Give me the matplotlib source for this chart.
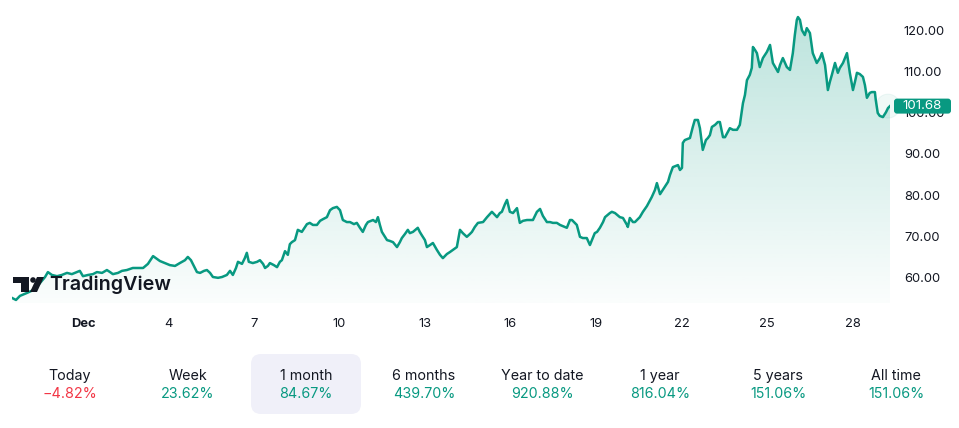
import numpy as np
import matplotlib.pyplot as plt
from matplotlib.patches import Polygon, FancyBboxPatch, Circle

plt.rcParams['font.family'] = ['Inter', 'DejaVu Sans']

# price history, x in days of December (1 = Dec 1)
days = [-1.49, -1.35, -1.21, -0.97, -0.75, -0.51, -0.33, -0.23, -0.09, 0.09,
        0.26, 0.44, 0.61, 0.79, 0.89, 1.00, 1.18, 1.35, 1.49, 1.67,
        1.84, 1.95, 2.05, 2.23, 2.37, 2.54, 2.75, 2.93, 3.11, 3.28,
        3.46, 3.60, 3.70, 3.88, 4.05, 4.23, 4.40, 4.58, 4.68, 4.79,
        4.89, 5.00, 5.11, 5.25, 5.35, 5.46, 5.56, 5.74, 5.88, 6.05,
        6.16, 6.26, 6.37, 6.44, 6.58, 6.68, 6.75, 6.82, 6.96, 7.11,
        7.21, 7.32, 7.39, 7.49, 7.56, 7.70, 7.81, 7.91, 7.98, 8.09,
        8.19, 8.26, 8.33, 8.44, 8.54, 8.68, 8.86, 8.96, 9.07, 9.21,
        9.32, 9.42, 9.56, 9.67, 9.77, 9.91, 10.02, 10.12, 10.26, 10.37,
        10.51, 10.61, 10.72, 10.82, 10.93, 11.00, 11.18, 11.28, 11.35, 11.42,
        11.49, 11.60, 11.67, 11.77, 11.88, 12.02, 12.12, 12.19, 12.30, 12.40,
        12.47, 12.58, 12.75, 12.82, 12.89, 13.00, 13.07, 13.18, 13.28, 13.42,
        13.53, 13.63, 13.77, 13.88, 14.02, 14.12, 14.23, 14.33, 14.47, 14.58,
        14.65, 14.75, 14.86, 15.04, 15.18, 15.35, 15.46, 15.53, 15.63, 15.70,
        15.81, 15.88, 15.98, 16.09, 16.23, 16.33, 16.44, 16.58, 16.68, 16.79,
        16.93, 17.04, 17.14, 17.28, 17.39, 17.49, 17.63, 17.74, 17.84, 17.98,
        18.09, 18.16, 18.26, 18.33, 18.44, 18.54, 18.68, 18.79, 18.89, 18.96,
        19.04, 19.14, 19.25, 19.32, 19.49, 19.56, 19.67, 19.84, 19.95, 20.09,
        20.12, 20.19, 20.30, 20.37, 20.54, 20.65, 20.79, 20.96, 21.07, 21.14,
        21.25, 21.42, 21.53, 21.60, 21.70, 21.88, 21.95, 22.02, 22.05, 22.12,
        22.30, 22.40, 22.47, 22.58, 22.65, 22.75, 22.86, 22.93, 23.00, 23.07,
        23.18, 23.28, 23.35, 23.46, 23.53, 23.63, 23.70, 23.81, 23.95, 24.05,
        24.16, 24.23, 24.30, 24.40, 24.47, 24.51, 24.58, 24.65, 24.75, 24.86,
        25.00, 25.11, 25.21, 25.39, 25.46, 25.56, 25.70, 25.81, 25.91, 25.98,
        26.05, 26.09, 26.16, 26.23, 26.33, 26.40, 26.51, 26.61, 26.75, 26.86,
        26.93, 27.04, 27.14, 27.21, 27.28, 27.39, 27.49, 27.56, 27.67, 27.81,
        27.91, 28.02, 28.09, 28.16, 28.26, 28.37, 28.44, 28.51, 28.61, 28.68,
        28.79, 28.82, 28.89, 28.96, 29.07, 29.18, 29.25, 29.32]
prices = [54.9, 54.4, 55.4, 56.1, 56.8, 58.5, 60.0, 61.2, 60.5, 60.2,
          60.5, 61.0, 60.7, 61.2, 61.5, 60.2, 60.5, 60.7, 61.2, 61.0,
          61.7, 61.2, 60.7, 61.0, 61.5, 61.7, 62.2, 62.2, 62.2, 63.2,
          65.1, 64.4, 63.9, 63.4, 62.9, 62.7, 63.4, 64.1, 64.9, 64.1,
          62.7, 61.2, 61.0, 61.5, 61.7, 61.0, 60.0, 59.8, 60.0, 60.5,
          61.5, 60.5, 62.2, 63.7, 63.2, 64.6, 65.9, 63.7, 63.4, 63.7,
          64.1, 63.2, 62.2, 62.7, 63.4, 62.9, 62.4, 63.7, 64.1, 66.3,
          65.4, 68.0, 68.5, 69.0, 71.5, 71.0, 72.9, 73.2, 72.7, 72.7,
          73.7, 74.1, 74.6, 76.3, 76.8, 77.1, 76.3, 73.9, 73.4, 73.4,
          72.9, 73.2, 72.0, 71.0, 72.7, 73.4, 73.9, 73.4, 74.6, 72.7,
          71.0, 69.8, 69.0, 68.8, 68.5, 67.3, 68.5, 69.5, 70.5, 71.5,
          70.7, 71.0, 72.0, 71.0, 70.2, 69.0, 67.3, 67.8, 68.3, 66.6,
          65.4, 64.6, 65.6, 66.1, 66.8, 67.3, 71.5, 70.7, 69.8, 70.5,
          71.0, 72.2, 73.2, 73.4, 74.6, 75.9, 75.1, 74.6, 75.6, 75.9,
          77.8, 78.8, 75.9, 75.6, 76.8, 73.2, 73.7, 73.9, 73.9, 73.9,
          75.9, 76.6, 74.9, 73.4, 73.4, 73.2, 73.2, 72.7, 72.4, 72.0,
          73.9, 73.9, 73.2, 72.7, 69.8, 69.5, 69.5, 67.8, 69.5, 70.7,
          71.0, 72.0, 73.4, 74.6, 75.6, 75.9, 75.6, 74.6, 74.4, 72.7,
          72.2, 74.4, 73.4, 73.4, 74.6, 75.9, 77.3, 79.5, 81.2, 82.9,
          80.2, 82.0, 83.2, 84.9, 86.8, 87.3, 86.1, 86.6, 92.7, 93.4,
          93.9, 96.6, 98.3, 98.3, 96.3, 91.0, 93.4, 93.9, 94.6, 96.6,
          97.1, 97.8, 97.8, 94.1, 94.1, 95.4, 96.3, 95.9, 95.9, 97.1,
          102.4, 104.4, 108.0, 109.3, 111.0, 116.1, 115.4, 114.6, 111.2, 113.4,
          114.9, 116.6, 112.2, 110.0, 111.7, 113.4, 111.2, 110.5, 114.6, 119.0,
          122.7, 123.4, 122.7, 120.2, 119.0, 120.7, 119.5, 114.6, 112.2, 113.4,
          114.6, 111.7, 105.6, 107.6, 109.3, 112.2, 109.8, 111.0, 112.2, 114.6,
          109.8, 105.6, 107.6, 109.8, 109.5, 108.8, 106.8, 103.7, 104.9, 105.1,
          105.1, 103.2, 100.0, 99.3, 99.0, 100.2, 101.2, 101.68]

tick_days = [1, 4, 7, 10, 13, 16, 19, 22, 25, 28]
tick_labels = ['Dec', '4', '7', '10', '13', '16', '19', '22', '25', '28']
y_ticks = [60, 70, 80, 90, 100, 110, 120]

periods = ['Today', 'Week', '1 month', '6 months', 'Year to date', '1 year', '5 years', 'All time']
changes = [-4.82, 23.62, 84.67, 439.70, 920.88, 816.04, 151.06, 151.06]
selected = '1 month'

green = '#089981'
red = '#f23645'
dark = '#131722'

W, H = 959, 428
fig = plt.figure(figsize=(W / 100, H / 100), dpi=100)
ax = fig.add_axes([12 / W, (H - 303) / H, 878 / W, 298 / H])
ymin, ymax = 53.66, 126.34
ax.set_xlim(days[0], days[-1])
ax.set_ylim(ymin, ymax)

# gradient area under the line
grad = np.zeros((256, 1, 4))
grad[:, 0, 0] = 8 / 255
grad[:, 0, 1] = 153 / 255
grad[:, 0, 2] = 129 / 255
grad[:, 0, 3] = np.linspace(0.02, 0.28, 256)
img = ax.imshow(grad, extent=[days[0], days[-1], ymin, ymax], aspect='auto',
                origin='lower', zorder=1)
verts = list(zip(days, prices)) + [(days[-1], ymin), (days[0], ymin)]
clip = Polygon(verts, closed=True, transform=ax.transData, facecolor='none', edgecolor='none')
ax.add_patch(clip)
img.set_clip_path(clip)

ax.plot(days, prices, color=green, lw=1.8, zorder=3, solid_joinstyle='round')

for s in ax.spines.values():
    s.set_visible(False)
ax.set_xticks(tick_days)
ax.set_xticklabels(tick_labels)
ax.get_xticklabels()[0].set_fontweight('bold')
ax.yaxis.tick_right()
ax.set_yticks(y_ticks)
ax.set_yticklabels([f'{v:.2f}' for v in y_ticks])
ax.tick_params(axis='both', length=0, labelsize=9.3, labelcolor=dark)
ax.tick_params(axis='x', pad=11)
ax.tick_params(axis='y', pad=10)

# pulse ring and last price label (pixel space)
lx, ly = ax.transData.transform((days[-1], prices[-1]))
fig.patches.append(Circle((lx - 2, ly), 12, transform=None, facecolor=green, alpha=0.06,
                          edgecolor=green, lw=0.8, zorder=2))
fig.patches.append(FancyBboxPatch((lx + 4, ly - 7.5), 57, 15, transform=None,
                                  boxstyle='round,pad=0,rounding_size=3',
                                  facecolor=green, edgecolor='none', zorder=5))
fig.text((lx + 32) / W, ly / H, f'{prices[-1]:.2f}', ha='center', va='center',
         color='white', fontsize=9.6, zorder=6)

# TradingView logo
def px(x, y):
    return (x, H - y)
fig.patches.append(Polygon([px(13, 277), px(29, 277), px(29, 292), px(21, 292), px(21, 283), px(13, 283)],
                           closed=True, transform=None, facecolor=dark, edgecolor='none'))
fig.patches.append(Circle(px(33, 280), 2.8, transform=None, facecolor=dark, edgecolor='none'))
fig.patches.append(Polygon([px(37, 277), px(44, 277), px(37, 292), px(30, 292)],
                           closed=True, transform=None, facecolor=dark, edgecolor='none'))
fig.text(49 / W, (H - 285) / H, 'TradingView', fontsize=14.2, fontweight='semibold',
         color=dark, va='center', ha='left')

# period performance row
col_w = 118
for i, (p, c) in enumerate(zip(periods, changes)):
    cx = 70 + i * col_w
    if p == selected:
        fig.patches.append(FancyBboxPatch((cx - 55, H - 414), 110, 60, transform=None,
                                          boxstyle='round,pad=0,rounding_size=10',
                                          facecolor='#f0f0f9', edgecolor='none'))
    fig.text(cx / W, (H - 376) / H, p, ha='center', va='center', fontsize=10.3, color=dark)
    txt = f'{c:.2f}%'.replace('-', '\u2212')
    fig.text(cx / W, (H - 394) / H, txt, ha='center', va='center', fontsize=10.3,
             color=red if c < 0 else green)

fig.savefig('out.png', dpi=100)
